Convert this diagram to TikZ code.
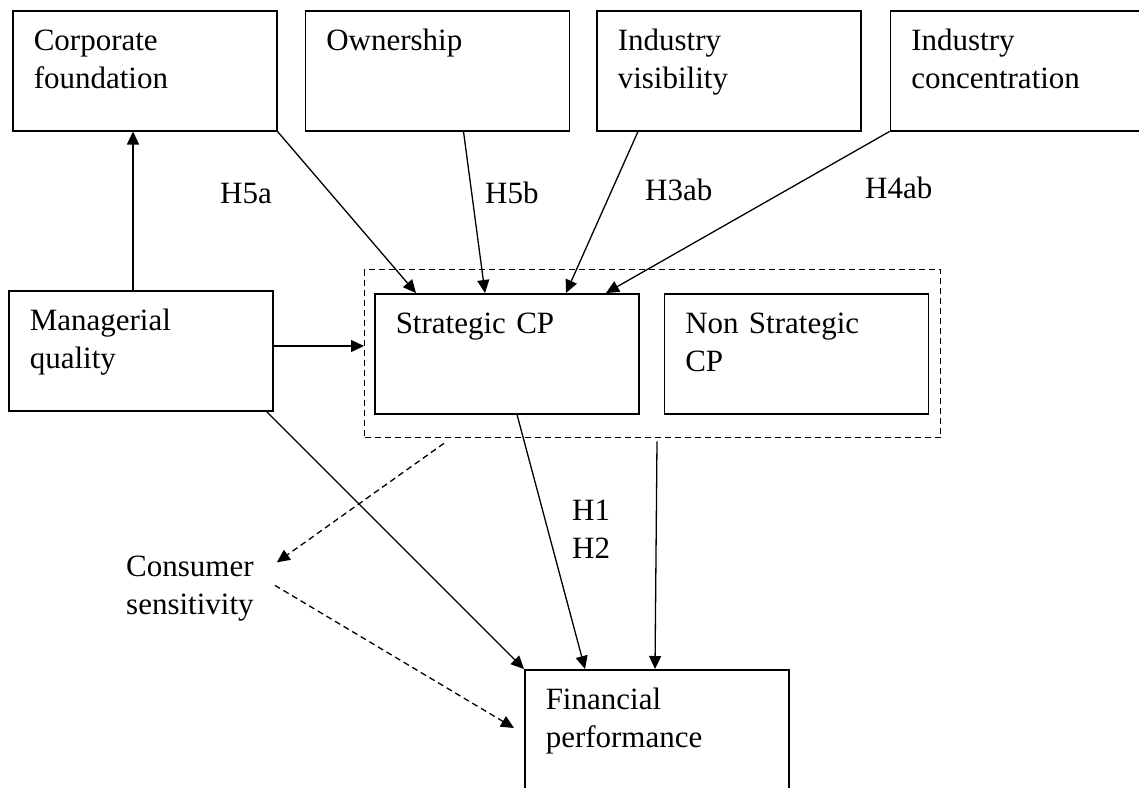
\documentclass[tikz,border=0pt]{standalone}
\usepackage{fontspec}
\setmainfont{Liberation Serif}
\usetikzlibrary{arrows.meta,positioning,calc}

\begin{document}
\begin{tikzpicture}[x=1pt,y=-1pt,node distance=27pt,>={Triangle[length=13pt,width=12pt]},
  font=\fontsize{31}{37.5}\selectfont,
  box/.style={draw,line width=1.5pt,text width=222pt,inner xsep=21pt,inner ysep=0pt,text height=40pt,text depth=80pt,align=left},
  arr/.style={->,line width=1.3pt},
  darr/.style={->,line width=1.3pt,dash pattern=on 6pt off 4pt}]
\clip (0,0) rectangle (1139,787);
\fill[white] (0,0) rectangle (1139,787);
\node[box,anchor=north west] (cf) at (12,10) {Corporate\\foundation};
\node[box,right=27pt of cf] (own) {Ownership};
\node[box,right=26pt of own] (vis) {Industry\\visibility};
\node[box,right=28pt of vis] (conc) {Industry\\concentration};
\node[box,anchor=north west] (mq) at (8,290) {Managerial\\quality};
\node[draw,line width=1.3pt,dash pattern=on 6pt off 4pt,minimum width=576pt,minimum height=168pt,anchor=north west] (grp) at (364,269) {};
\node[box,anchor=north west] (scp) at (374,293) {Strategic CP};
\node[box,right=24pt of scp] (nscp) {Non Strategic\\CP};
\node[box,anchor=north west] (fin) at (524,669) {Financial\\performance};
\node[anchor=base west,align=left,inner sep=0pt] (cs) at (126,614) {Consumer\\sensitivity};
\node[anchor=base west,inner sep=0pt] (h5a) at (220,203) {H5a};
\node[anchor=base west,inner sep=0pt] (h5b) at (485,203) {H5b};
\node[anchor=base west,inner sep=0pt] (h3) at (645,200) {H3ab};
\node[anchor=base west,inner sep=0pt] (h4) at (865,198) {H4ab};
\node[anchor=base west,align=left,inner sep=0pt] (h12) at (572,558) {H1\\H2};
\draw[arr] ($(mq.north west)+(125,0)$) -- ($(cf.south west)+(121,0)$);
\draw[arr] (cf.south east) -- ($(scp.north west)+(42,0)$);
\draw[arr] ($(own.south west)+(159,0)$) -- ($(scp.north west)+(111,0)$);
\draw[arr] ($(vis.south west)+(42,0)$) -- ($(scp.north west)+(192,0)$);
\draw[arr] (conc.south west) -- ($(scp.north west)+(232,0)$);
\draw[arr] ($(mq.north east)+(0,56)$) -- ($(grp.north west)+(0,77)$);
\draw[arr] ($(mq.south east)+(-7,0)$) -- (fin.north west);
\draw[arr] ($(scp.south west)+(143,0)$) -- ($(fin.north west)+(61,0)$);
\draw[arr] ($(grp.south west)+(293,3)$) -- ($(fin.north west)+(131,0)$);
\draw[darr] ($(grp.south west)+(80,5)$) -- ($(cs.east)+(23,-26)$);
\draw[darr] ($(cs.east)+(21,-3)$) -- ($(fin.north west)+(-10,59)$);
\end{tikzpicture}
\end{document}
